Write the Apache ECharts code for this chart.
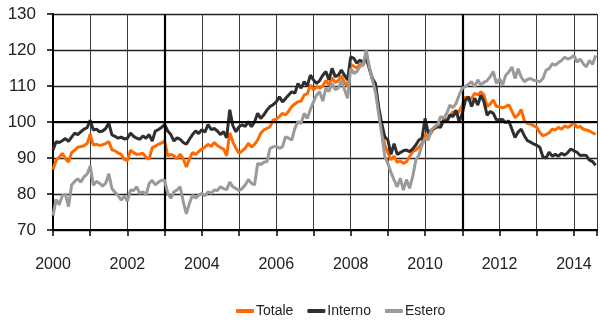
<!DOCTYPE html>
<html>
<head>
<meta charset="utf-8">
<script src="https://cdn.jsdelivr.net/npm/echarts@6/dist/echarts.min.js"></script>
<style>
  html, body { margin: 0; padding: 0; background: #fff; }
  #chart { width: 600px; height: 320px; }
</style>
</head>
<body>
<div id="chart"></div>
<script>
// Monthly index values, January 2000 – August 2014
const startYear = 2000;
const yearLabels = ['2000', '2002', '2004', '2006', '2008', '2010', '2012', '2014'];
const yTicks = [70, 80, 90, 100, 110, 120, 130];
const seriesNames = ['Totale', 'Interno', 'Estero'];

const totale = [
  86.8, 89.4, 90.2, 91.3, 89.8, 88.9, 91.5, 92.2, 93.0, 93.2, 93.4, 94.0,
  96.6, 93.6, 93.8, 93.5, 93.7, 94.0, 94.6, 92.3, 92.0, 91.4, 91.0, 89.6,
  89.3, 92.2, 91.5, 91.0, 91.1, 91.3, 90.2, 89.7, 92.9, 93.3, 93.8, 94.2,
  94.7, 90.6, 91.0, 90.6, 89.7, 91.1, 89.8, 87.5, 89.7, 91.5, 91.0, 91.8,
  92.5, 93.0, 93.8, 93.2, 94.3, 93.5, 92.9, 92.5, 90.6, 97.0, 94.5, 92.7,
  91.3, 92.0, 92.7, 94.1, 93.0, 93.8, 95.0, 96.9, 97.8, 98.2, 98.7, 100.6,
  100.8, 101.5, 102.4, 102.0, 103.0, 104.3, 105.0, 105.6, 105.8, 107.5, 107.8, 110.3,
  108.9, 109.8, 109.4, 110.0, 111.5, 110.2, 112.3, 111.0, 111.5, 112.8, 111.0, 110.0,
  116.0, 115.5, 115.0, 116.0, 115.8, 117.5, 115.0, 111.8, 110.0, 103.5, 98.5, 93.5,
  91.5, 89.5, 90.5, 88.8, 89.2, 88.5, 89.0, 90.4, 91.8, 92.2, 93.0, 94.1,
  96.5, 95.9, 97.0, 98.7, 99.2, 99.0, 100.6, 100.8, 101.5, 102.9, 102.0, 103.0,
  104.7, 107.0, 106.0, 106.6, 108.0, 107.5, 108.4, 107.5, 104.3, 105.0, 106.1, 104.3,
  104.3, 103.9, 104.3, 104.8, 103.0, 101.2, 102.0, 103.5, 100.3, 99.6, 99.4, 99.0,
  98.5, 97.1, 96.2, 96.5, 97.0, 98.0, 97.8, 98.5, 98.0, 98.9, 98.5, 99.0,
  99.8, 98.5, 98.8, 98.0, 97.8, 97.5, 97.0, 96.6
];

const interno = [
  92.2, 94.5, 94.3, 94.8, 95.4, 94.6, 95.8, 96.9, 96.5, 97.3, 98.0, 98.4,
  100.5, 97.8, 98.0, 97.3, 97.5, 98.2, 99.7, 96.4, 96.0, 95.5, 95.8, 95.3,
  95.5, 96.9, 96.0, 95.5, 95.2, 96.1, 95.5, 96.5, 94.7, 97.5, 97.9, 98.5,
  99.3, 97.5, 96.5, 94.7, 95.6, 95.2, 94.3, 93.8, 95.2, 96.5, 97.5, 96.8,
  97.9, 97.2, 99.3, 97.9, 98.2, 97.5, 96.5, 97.3, 95.6, 103.4, 99.0, 97.3,
  98.7, 99.2, 98.8, 100.1, 98.7, 100.0, 102.4, 101.0, 102.0, 103.3, 104.3, 104.8,
  105.6, 107.0, 105.6, 106.5, 107.5, 108.4, 108.0, 110.7, 109.4, 111.2, 110.0, 113.0,
  111.7, 110.7, 111.5, 113.0, 114.0, 111.7, 114.9, 112.6, 113.0, 114.4, 113.0, 111.7,
  118.1, 117.7, 116.3, 117.2, 116.5, 118.1, 114.9, 112.1, 110.7, 104.3, 99.6, 95.9,
  95.0, 91.0, 94.0, 91.0, 91.5, 92.0, 92.2, 91.8, 92.5, 93.6, 95.0, 95.5,
  101.0, 96.9, 97.8, 98.2, 98.7, 98.5, 100.6, 100.0, 102.0, 101.5, 103.3, 100.0,
  102.4, 106.1, 107.0, 104.3, 106.6, 104.7, 107.5, 105.6, 101.9, 102.9, 102.4, 100.6,
  100.6, 100.7, 99.8, 100.3, 98.0, 95.7, 97.2, 98.0, 96.2, 94.8, 94.4, 93.9,
  93.5, 93.0, 90.3, 90.0, 91.6, 90.5, 91.0, 90.5, 91.3, 90.8, 91.5, 92.5,
  92.0, 91.6, 90.7, 90.8, 90.7, 89.4, 89.0, 88.0
];

const estero = [
  74.0, 78.5, 77.0, 79.5, 80.0, 76.5, 82.5, 83.5, 84.2, 83.3, 84.8, 85.5,
  87.8, 82.4, 83.5, 83.0, 82.2, 83.0, 85.6, 81.5, 80.5, 79.6, 78.3, 79.5,
  78.0, 81.1, 81.0, 82.0, 80.2, 80.6, 79.7, 82.9, 83.8, 82.5, 83.3, 83.8,
  83.8, 80.2, 78.8, 80.6, 81.1, 82.0, 77.9, 74.5, 77.4, 79.7, 78.8, 79.7,
  80.2, 79.5, 80.6, 80.2, 81.1, 81.0, 82.0, 81.5, 81.2, 83.3, 82.0, 81.5,
  81.0, 81.5, 82.5, 84.0, 83.0, 82.5, 88.5, 88.2, 88.8, 89.0, 92.7, 93.1,
  93.3, 92.7, 93.1, 95.9, 95.5, 95.0, 98.2, 100.1, 99.6, 102.4, 101.0, 103.5,
  105.6, 107.5, 108.4, 105.8, 109.4, 108.5, 110.7, 109.0, 109.4, 111.7, 109.0, 106.6,
  114.9, 113.5, 114.0, 115.4, 115.8, 120.0, 115.4, 111.7, 108.4, 102.4, 96.9, 90.4,
  88.5, 86.0, 83.9, 82.0, 84.4, 81.1, 84.0, 81.6, 84.8, 89.4, 90.8, 93.6,
  95.5, 95.0, 97.8, 98.5, 99.2, 101.5, 101.0, 102.4, 104.7, 104.0, 105.2, 107.5,
  109.4, 109.8, 110.5, 111.2, 109.8, 111.7, 110.3, 111.0, 111.5, 112.6, 114.0, 110.7,
  112.0, 110.3, 113.0, 113.9, 115.3, 112.1, 114.8, 112.5, 111.2, 111.8, 112.1, 111.6,
  111.4, 111.2, 112.1, 114.4, 114.8, 116.2, 115.8, 116.5, 117.1, 118.0, 117.5, 117.8,
  118.5, 116.6, 117.5, 116.2, 115.3, 117.1, 116.0, 118.5
];

// reference lines drawn heavier than the rest of the grid
const heavyYears = [2003, 2011];
const heavyLevels = [100];

const colors = ['#ff6a00', '#2f2f2f', '#9a9a9a'];
const font = "'Liberation Sans', Arial, sans-serif";

// month index -> fractional year on a value axis
const toPoints = arr => arr.map((v, i) => [startYear + i / 12, v]);

const chart = echarts.init(document.getElementById('chart'), null, { renderer: 'canvas' });

const lineSeries = [totale, interno, estero].map((arr, k) => ({
  name: seriesNames[k],
  type: 'line',
  data: toPoints(arr),
  showSymbol: false,
  symbol: 'none',
  z: 3 + k,
  lineStyle: { color: colors[k], width: 3 },
  itemStyle: { color: colors[k] }
}));

const option = {
  animation: false,
  backgroundColor: '#ffffff',
  grid: { left: 53, right: 0, top: 14, bottom: 90 },
  legend: {
    data: seriesNames,
    left: 231,
    top: 299,
    icon: 'roundRect',
    itemWidth: 18,
    itemHeight: 4,
    itemGap: 14,
    textStyle: { fontFamily: font, fontSize: 14, color: '#222', padding: [0, 0, 0, -3] }
  },
  xAxis: {
    type: 'value',
    min: 2000,
    max: 2014.62,
    interval: 1,
    axisLine: { show: true, onZero: false, lineStyle: { color: '#000', width: 2 } },
    axisTick: { show: true, length: 6, lineStyle: { color: '#000', width: 1.5 } },
    axisLabel: {
      margin: 27,
      fontFamily: font,
      fontSize: 16,
      color: '#222',
      formatter: v => (Number.isInteger(v) && yearLabels.includes(String(v))) ? String(v) : ''
    },
    splitLine: { show: true, lineStyle: { color: '#3a3a3a', width: 1 } }
  },
  yAxis: {
    type: 'value',
    min: yTicks[0],
    max: yTicks[yTicks.length - 1],
    interval: 10,
    axisLine: { show: true, lineStyle: { color: '#000', width: 2 } },
    axisTick: { show: true, length: 6, lineStyle: { color: '#000', width: 1.5 } },
    axisLabel: {
      margin: 17,
      fontFamily: font,
      fontSize: 17,
      color: '#222'
    },
    splitLine: { show: true, lineStyle: { color: '#222', width: 1.3 } }
  },
  series: [
    {
      type: 'line',
      data: [],
      z: 1,
      silent: true,
      markLine: {
        silent: true,
        symbol: 'none',
        label: { show: false },
        lineStyle: { color: '#000', width: 2.2, type: 'solid' },
        data: heavyYears.map(y => ({ xAxis: y })).concat(heavyLevels.map(l => ({ yAxis: l })))
      }
    }
  ].concat(lineSeries)
};

chart.setOption(option);
</script>
</body>
</html>
